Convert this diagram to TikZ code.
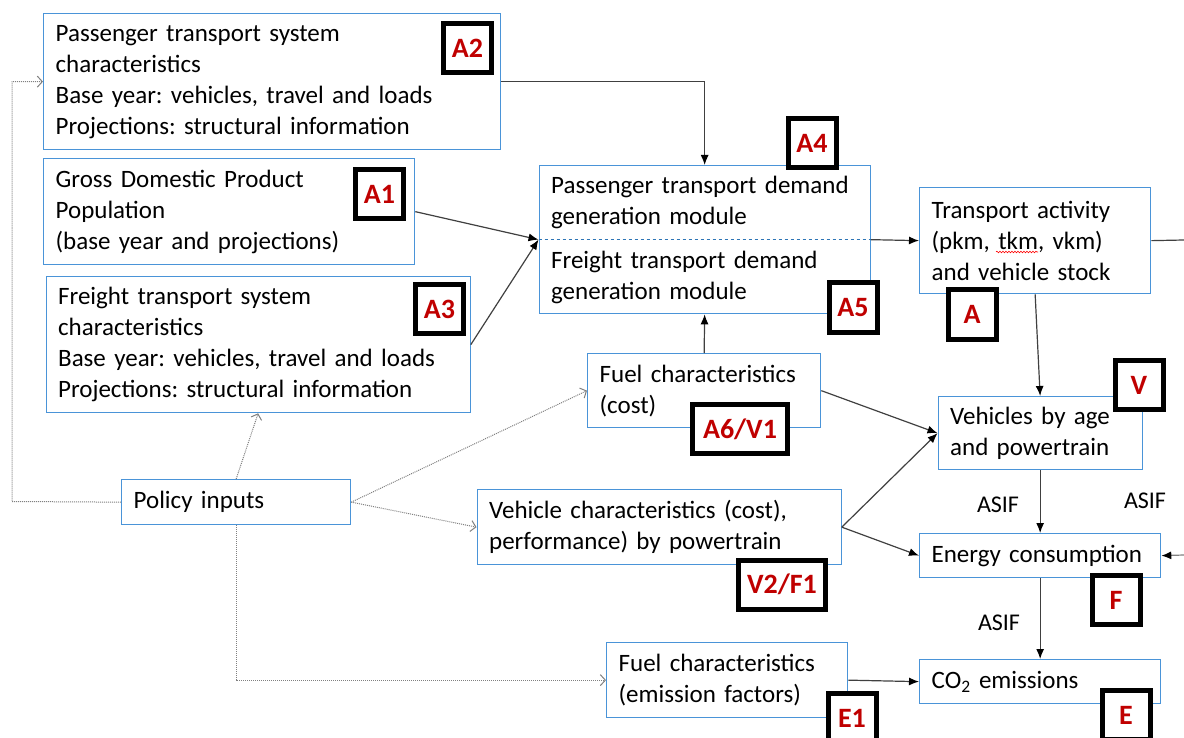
\documentclass[tikz,border=0pt]{standalone}
\usepackage{fontspec}
\setmainfont{Carlito}
\usetikzlibrary{arrows.meta,decorations.pathmorphing}
\definecolor{boxblue}{HTML}{4A94D8}
\definecolor{lineblue}{HTML}{2E75B6}
\definecolor{tagred}{HTML}{C00000}
\definecolor{linkgray}{HTML}{404040}
\frenchspacing

\begin{document}
\begin{tikzpicture}[x=1pt, y=-1pt,
    box/.style={draw=boxblue, line width=1.3pt, fill=white, anchor=north west, align=left,
      inner xsep=12pt, inner ysep=0pt, font=\fontsize{25}{31}\selectfont},
    tag/.style={draw=black, line width=5pt, fill=white, text=tagred, inner sep=0pt,
      minimum width=48pt, minimum height=49pt, font=\bfseries\fontsize{28}{30}\selectfont},
    link/.style={draw=linkgray, line width=1.2pt, -{Latex[length=10pt, width=8pt, color=black]}},
    policy link/.style={draw=gray, line width=1pt, densely dotted, -{Straight Barb[length=5pt, width=11pt]}},
    note/.style={font=\fontsize{24}{28}\selectfont}]
    \useasboundingbox (0, 0) rectangle (1184, 738);

    \coordinate (bendL) at (12, 501.5);
    \coordinate (offA) at (1184, 240);
    \coordinate (offF) at (1184, 555);

    \node [box, text width=433pt, minimum height=136pt] (psys) at (43, 13)
      {Passenger transport system\\characteristics\\Base year: vehicles, travel and loads\\Projections: structural information};
    \node [box, text width=347pt, minimum height=106pt] (gdp) at (43, 158)
      {Gross Domestic Product\\Population\\(base year and projections)};
    \node [box, text width=400pt, minimum height=136pt] (fsys) at (45.5, 276)
      {Freight transport system\\characteristics\\Base year: vehicles, travel and loads\\Projections: structural information};
    \node [box, text width=307pt, minimum height=148pt] (demand) at (538.5, 165)
      {Passenger transport demand\\generation module\\[13pt]Freight transport demand\\generation module};
    \node [box, text width=207pt, minimum height=106pt] (activity) at (919, 187)
      {Transport activity\\(pkm, tkm, vkm)\\and vehicle stock};
    \node [box, text width=209pt, minimum height=74pt] (fuelcost) at (587, 353)
      {Fuel characteristics\\(cost)};
    \node [box, text width=180pt, minimum height=73pt] (vehicles) at (937.5, 396)
      {Vehicles by age\\and powertrain};
    \node [box, text width=340pt, minimum height=75pt] (vehchar) at (476.5, 489)
      {Vehicle characteristics (cost),\\performance) by powertrain};
    \node [box, text width=217pt, minimum height=44pt] (energy) at (919, 533)
      {Energy consumption};
    \node [box, text width=217pt, minimum height=44pt] (co2) at (919, 659)
      {CO\textsubscript{2} emissions};
    \node [box, text width=217pt, minimum height=75pt] (fuelem) at (606, 642)
      {Fuel characteristics\\(emission factors)};
    \node [box, text width=205pt, minimum height=45pt] (policy) at (121, 479)
      {Policy inputs};

    \draw [lineblue, line width=1pt, dashed] (demand.west) -- (demand.east);
    \draw [red, line width=0.6pt, decorate, decoration={snake, amplitude=0.8pt, segment length=3pt}]
      (996, 252) -- (1038, 252);

    \node [note] (asif1) at (998, 505) {ASIF};
    \node [note] (asif2) at (1145, 501) {ASIF};
    \node [note] (asif3) at (999, 623) {ASIF};

    \draw [link] (psys.east) -| (demand.north);
    \draw [link] (gdp.east) -- (demand.west);
    \draw [link] (fsys.east) -- (demand.west);
    \draw [link] (demand.east) -- (activity.west);
    \draw [draw=linkgray, line width=1.2pt] (activity.east) -- (offA);
    \draw [link] (fuelcost.north) -- (demand.south);
    \draw [link] (fuelcost.east) -- (vehicles.west);
    \draw [link] (activity.south) -- (vehicles.north);
    \draw [link] (vehchar.east) -- (vehicles.west);
    \draw [link] (vehchar.east) -- (energy.west);
    \draw [link] (vehicles.south) -- (energy.north);
    \draw [link] (energy.south) -- (co2.north);
    \draw [link, draw=gray] (offF) -- (energy.east);
    \draw [link] (fuelem.east) -- (co2.west);

    \draw [policy link] (policy.west) -- (bendL) |- (psys.west);
    \draw [policy link] (policy.north) -- (fsys.south);
    \draw [policy link] (policy.east) -- (fuelcost.west);
    \draw [policy link] (policy.east) -- (vehchar.west);
    \draw [policy link] (policy.south) |- (fuelem.west);

    \node [tag] (tagA2) at (467.5, 48) {A2};
    \node [tag] (tagA1) at (379.5, 194) {A1};
    \node [tag] (tagA3) at (439.5, 309) {A3};
    \node [tag] (tagA4) at (812, 143) {A4};
    \node [tag] (tagA5) at (853, 307.5) {A5};
    \node [tag] (tagA) at (972, 314.5) {A};
    \node [tag, minimum width=95pt] (tagA6) at (740, 429) {A6/V1};
    \node [tag] (tagV) at (1139, 385) {V};
    \node [tag, minimum width=87pt] (tagV2) at (782, 584.5) {V2/F1};
    \node [tag] (tagF) at (1116, 600) {F};
    \node [tag] (tagE) at (1126, 715) {E};
    \node [tag] (tagE1) at (852, 718) {E1};
  \end{tikzpicture}
\end{document}
